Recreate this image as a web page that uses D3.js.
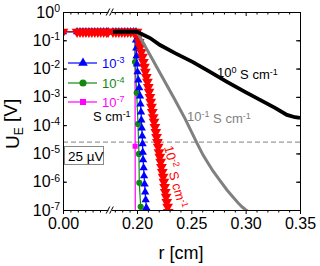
<!DOCTYPE html>
<html>
<head>
<meta charset="utf-8">
<script src="https://cdn.jsdelivr.net/npm/d3@7"></script>
<style>
body { margin: 0; background: #fff; }
svg { display: block; font-family: "Liberation Sans", Arial, sans-serif; }
</style>
</head>
<body>
<svg id="chart" width="320" height="266"></svg>
<script>
// plateau shared by every conductivity (null = axis break)
var flatR = [0, 0.038, 0.046, 0.054, 0.062, 0.070, 0.078, 0.086, 0.094, 0.102, 0.110, 0.118, 0.122, null,
             0.135, 0.143, 0.151, 0.159, 0.167, 0.175, 0.183, 0.191];
var flatU = 0.2;

// 10^0 S/cm
var r0 = [0.135, 0.2, 0.212, 0.2212, 0.235, 0.2515, 0.2672, 0.2828, 0.2994, 0.3132, 0.327, 0.338, 0.3454, 0.35];
var u0 = [0.2, 0.2, 0.12, 0.068, 0.035, 0.017, 7.6e-3, 3.4e-3, 1.5e-3, 7.8e-4, 4.1e-4, 2.3e-4, 1.9e-4, 1.8e-4];

// 10^-1 S/cm
var r1 = [0.135, 0.2, 0.212, 0.2212, 0.235, 0.2442, 0.2506, 0.2552, 0.2607, 0.2653, 0.2699, 0.2764, 0.2828, 0.2883, 0.2929, 0.2966, 0.3002, 0.3031];
var u1 = [0.2, 0.2, 0.030, 7.0e-3, 7.8e-4, 1.7e-4, 5.3e-5, 2.3e-5, 8.9e-6, 4.6e-6, 2.4e-6, 1.1e-6, 5.1e-7, 2.9e-7, 1.8e-7, 1.3e-7, 1.0e-7, 8.5e-8];

// 10^-2 S/cm
var r2 = [0.2000, 0.2010, 0.2020, 0.2030, 0.2040, 0.2050, 0.2059, 0.2068, 0.2077, 0.2086, 0.2096, 0.2104, 0.2111,
          0.2119, 0.2126, 0.2133, 0.2141, 0.2149, 0.2157, 0.2165, 0.2173, 0.2180, 0.2188, 0.2195, 0.2202, 0.2210,
          0.2218, 0.2225, 0.2233, 0.2240, 0.2247, 0.2254, 0.2260, 0.2268, 0.2274, 0.2282, 0.2288];
var u2 = [0.2, 0.131, 0.0871, 0.0580, 0.0386, 0.0257, 0.0171, 0.0114, 7.6e-3, 5.0e-3, 3.4e-3, 2.2e-3, 1.5e-3,
          9.9e-4, 6.6e-4, 4.4e-4, 2.9e-4, 1.9e-4, 1.3e-4, 8.6e-5, 5.7e-5, 3.8e-5, 2.5e-5, 1.7e-5, 1.1e-5, 7.5e-6,
          5.0e-6, 3.3e-6, 2.2e-6, 1.5e-6, 9.8e-7, 6.5e-7, 4.3e-7, 2.9e-7, 1.9e-7, 1.3e-7, 8.5e-8];

// 10^-3 S/cm
var r3 = [0.1973, 0.1973, 0.1981, 0.1989, 0.2000, 0.2005, 0.2012, 0.2020, 0.2028, 0.2032, 0.2037, 0.2040, 0.2044,
          0.2048, 0.2051, 0.2053, 0.2056, 0.2061, 0.2065, 0.2070, 0.2075, 0.2080, 0.2086, 0.2090];
var u3 = [0.2, 0.102, 0.0534, 0.0278, 0.0145, 7.6e-3, 3.9e-3, 2.1e-3, 1.07e-3, 5.6e-4, 2.9e-4, 1.5e-4, 7.9e-5,
          4.1e-5, 2.2e-5, 1.1e-5, 5.9e-6, 3.1e-6, 1.6e-6, 8.3e-7, 4.3e-7, 2.3e-7, 1.2e-7, 7.2e-8];

// 10^-4 S/cm
var r4 = [0.1946, 0.1946, 0.1992, 0.2009, 0.2018, 0.2021, 0.2034, 0.2038];
var u4 = [0.2, 1.7e-2, 1.4e-3, 1.1e-4, 9.6e-6, 9.1e-7, 1.3e-7, 5e-8];

// 10^-7 S/cm
var r7 = [0.1946, 0.1950, 0.1954];
var u7 = [0.2, 1.8e-5, 5e-8];

var xTicks = [0, 0.2, 0.25, 0.3, 0.35];
var xLabels = ["0.00", "0.20", "0.25", "0.30", "0.35"];
var xMinor = [0.02, 0.04, 0.06, 0.08, 0.10, 0.14, 0.16, 0.18, 0.21, 0.22, 0.23, 0.24, 0.26, 0.27, 0.28, 0.29, 0.31, 0.32, 0.33, 0.34];
var yTicks = [1, 1e-1, 1e-2, 1e-3, 1e-4, 1e-5, 1e-6, 1e-7];
var yExp = ["0", "-1", "-2", "-3", "-4", "-5", "-6", "-7"];
var threshold = 2.5e-5;

var svg = d3.select("#chart");
var x = d3.scaleLinear().domain([0, 0.2, 0.35]).range([63, 137, 300]);
var y = d3.scaleLog().domain([1e-7, 1]).range([210, 12]);

svg.append("clipPath").attr("id", "clip")
  .append("rect").attr("x", 63).attr("y", 12).attr("width", 237).attr("height", 198);

function build(rs, us, withFlat) {
  var pts = [];
  if (withFlat) flatR.forEach(function(r) { pts.push(r === null ? null : {r: r, u: flatU}); });
  rs.forEach(function(r, i) { pts.push({r: r, u: us[i]}); });
  return pts;
}

var line = d3.line()
  .defined(function(d) { return d !== null; })
  .x(function(d) { return x(d.r); })
  .y(function(d) { return y(d.u); });

var plot = svg.append("g").attr("clip-path", "url(#clip)");

// 25 uV threshold
plot.append("line")
  .attr("x1", 63).attr("x2", 300)
  .attr("y1", y(threshold)).attr("y2", y(threshold))
  .attr("stroke", "#999").attr("stroke-width", 1.3).attr("stroke-dasharray", "5,3");

var series = [
  {r: r7, u: u7, color: "#ff00ff", sym: d3.symbolSquare, size: 26, rot: 0},
  {r: r4, u: u4, color: "#118811", sym: d3.symbolCircle, size: 30, rot: 0},
  {r: r3, u: u3, color: "#0000ff", sym: d3.symbolTriangle, size: 30, rot: 0},
  {r: r2, u: u2, color: "#ff0000", sym: d3.symbolTriangle, size: 50, rot: 180}
];

series.forEach(function(s) {
  var data = build(s.r, s.u, true);
  plot.append("path").datum(data)
    .attr("d", line).attr("fill", "none")
    .attr("stroke", s.color).attr("stroke-width", 1.2);
  plot.selectAll(null)
    .data(data.filter(function(d) { return d !== null; }))
    .enter().append("path")
    .attr("d", d3.symbol().type(s.sym).size(s.size))
    .attr("transform", function(d) { return "translate(" + x(d.r) + "," + y(d.u) + ") rotate(" + s.rot + ")"; })
    .attr("fill", s.color);
});

plot.append("path").datum(build(r1, u1, false))
  .attr("d", line).attr("fill", "none").attr("stroke", "#808080").attr("stroke-width", 3);
plot.append("path").datum(build(r0, u0, false))
  .attr("d", line).attr("fill", "none").attr("stroke", "#000").attr("stroke-width", 3.8);

// axes
var gB = svg.append("g").attr("transform", "translate(0,210)")
  .call(d3.axisBottom(x).tickValues(xTicks).tickFormat(function(d, i) { return xLabels[i]; })
    .tickSize(4).tickSizeOuter(0).tickPadding(4));
svg.append("g").attr("transform", "translate(0,210)")
  .call(d3.axisBottom(x).tickValues(xMinor).tickFormat("").tickSize(2.5).tickSizeOuter(0));
gB.select(".domain").attr("stroke", "#22226a");
gB.selectAll("text").attr("font-size", "16px").attr("fill", "#000").attr("font-family", null);

svg.append("g").attr("transform", "translate(0,12)")
  .call(d3.axisTop(x).tickValues(xTicks).tickFormat("").tickSize(-4).tickSizeOuter(0));
svg.append("g").attr("transform", "translate(0,12)")
  .call(d3.axisTop(x).tickValues(xMinor).tickFormat("").tickSize(-2.5).tickSizeOuter(0));

var gL = svg.append("g").attr("transform", "translate(63,0)")
  .call(d3.axisLeft(y).tickValues(yTicks).tickSize(-4).tickSizeOuter(0).tickPadding(3));
svg.append("g").attr("transform", "translate(63,0)")
  .call(d3.axisLeft(y).ticks(7).tickFormat("").tickSize(-2.5).tickSizeOuter(0));
svg.append("g").attr("transform", "translate(300,0)")
  .call(d3.axisRight(y).tickValues(yTicks).tickFormat("").tickSize(-4).tickSizeOuter(0));
svg.append("g").attr("transform", "translate(300,0)")
  .call(d3.axisRight(y).ticks(7).tickFormat("").tickSize(-2.5).tickSizeOuter(0));

gL.selectAll(".tick text").each(function(d, i) {
  var t = d3.select(this).text(null).attr("font-size", "16px").attr("fill", "#000").attr("font-family", null);
  t.append("tspan").text("10");
  t.append("tspan").attr("dy", "-0.55em").attr("font-size", "10.5px").text(yExp[i]);
});

// axis break marks
[12, 210].forEach(function(yy) {
  svg.append("rect").attr("x", 108.5).attr("y", yy - 1.5).attr("width", 3.5).attr("height", 3).attr("fill", "#fff");
  [108, 111.5].forEach(function(bx) {
    svg.append("line")
      .attr("x1", bx - 1.8).attr("y1", yy + 3.5).attr("x2", bx + 1.8).attr("y2", yy - 3.5)
      .attr("stroke", "#000").attr("stroke-width", 1);
  });
});

// axis titles
svg.append("text").attr("x", 181).attr("y", 259).attr("text-anchor", "middle")
  .attr("font-size", "18px").text("r [cm]");
var yl = svg.append("text").attr("transform", "translate(19,149) rotate(-90)").attr("font-size", "19px");
yl.append("tspan").text("U");
yl.append("tspan").attr("font-size", "12px").attr("dy", "0.3em").text("E");
yl.append("tspan").attr("dy", "-0.3em").text(" [V]");

// curve labels
function sciLabel(g, exp, color) {
  g.attr("fill", color).attr("font-size", "13px");
  g.append("tspan").text("10");
  g.append("tspan").attr("dy", "-0.5em").attr("font-size", "9px").text(exp);
  g.append("tspan").attr("dy", "0.5em").text(" S cm");
  g.append("tspan").attr("dy", "-0.5em").attr("font-size", "9px").text("-1");
}
sciLabel(svg.append("text").attr("x", 217).attr("y", 77), "0", "#000");
sciLabel(svg.append("text").attr("x", 187).attr("y", 121), "-1", "#808080");
sciLabel(svg.append("text").attr("transform", "translate(164,147) rotate(75)"), "-2", "#ff0000");

// legend
var legendExp = ["-3", "-4", "-7"];
var legendY = [63, 83, 102];
var legendSeries = [series[2], series[1], series[0]];
legendSeries.forEach(function(s, i) {
  var ly = legendY[i];
  svg.append("line").attr("x1", 68).attr("x2", 97).attr("y1", ly).attr("y2", ly)
    .attr("stroke", s.color).attr("stroke-width", 1.2);
  svg.append("path").attr("d", d3.symbol().type(s.sym).size(s.size + 10))
    .attr("transform", "translate(83," + ly + ")").attr("fill", s.color);
  var t = svg.append("text").attr("x", 102).attr("y", ly + 4.5).attr("fill", s.color).attr("font-size", "13px");
  t.append("tspan").text("10");
  t.append("tspan").attr("dy", "-0.5em").attr("font-size", "9px").text(legendExp[i]);
});
var sc = svg.append("text").attr("x", 93).attr("y", 121).attr("font-size", "13px").attr("fill", "#000");
sc.append("tspan").text("S cm");
sc.append("tspan").attr("dy", "-0.5em").attr("font-size", "9px").text("-1");

// 25 uV box
svg.append("rect").attr("x", 64.5).attr("y", 146.5).attr("width", 39).attr("height", 18)
  .attr("fill", "#fff").attr("stroke", "#888").attr("stroke-width", 1);
svg.append("text").attr("x", 68).attr("y", 160.5).attr("font-size", "13.5px").text("25 \u00b5V");
</script>
</body>
</html>
